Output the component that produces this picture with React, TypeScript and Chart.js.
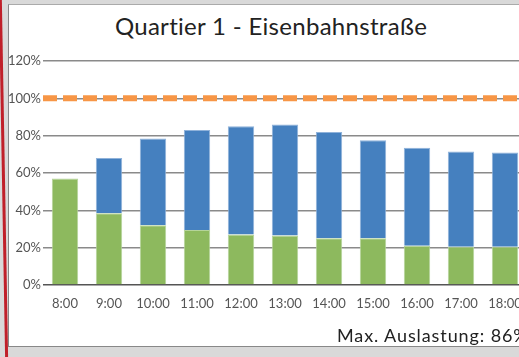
import React, { useEffect, useRef } from "react";
import { Chart, registerables } from "chart.js";

Chart.register(...registerables);

const title = "Quartier 1 - Eisenbahnstraße";
const footer = "Max. Auslastung: 86%";
const hours = ["8:00", "9:00", "10:00", "11:00", "12:00", "13:00", "14:00", "15:00", "16:00", "17:00", "18:00"];
const greenValues = [57, 38.5, 32, 29.5, 27, 26.5, 25, 25, 21, 20.5, 20.5];
const blueValues = [0, 29.5, 46.5, 53.5, 58, 59.5, 57, 52.5, 52.5, 51, 50.5];
const capacity = 100;
const yTicks = [0, 20, 40, 60, 80, 100, 120];

const FONT = "Lato, 'DejaVu Sans', sans-serif";

const capacityLine = {
  id: "capacityLine",
  afterDatasetsDraw(chart: any) {
    const { ctx, chartArea, scales } = chart;
    const y = scales.y.getPixelForValue(capacity);
    ctx.save();
    ctx.strokeStyle = "#F79646";
    ctx.lineWidth = 6;
    ctx.setLineDash([14, 6]);
    ctx.beginPath();
    ctx.moveTo(chartArea.left, y);
    ctx.lineTo(chartArea.right, y);
    ctx.stroke();
    ctx.restore();
  },
};

export default function App() {
  const ref = useRef<HTMLCanvasElement | null>(null);

  useEffect(() => {
    if (!ref.current) return;
    const chart = new Chart(ref.current, {
      type: "bar",
      data: {
        labels: hours,
        datasets: [
          {
            data: greenValues,
            backgroundColor: "#8DB95E",
            borderColor: "#B5D49A",
            borderWidth: 1,
            barPercentage: 0.6,
            categoryPercentage: 1,
            stack: "s",
          },
          {
            data: blueValues,
            backgroundColor: "#4580BF",
            borderColor: "#8FB2DA",
            borderWidth: 1,
            barPercentage: 0.6,
            categoryPercentage: 1,
            stack: "s",
          },
        ],
      },
      options: {
        animation: false,
        responsive: false,
        maintainAspectRatio: false,
        layout: { padding: { top: 61, right: 13, bottom: 0, left: 0 } },
        plugins: {
          legend: { display: false },
          tooltip: { enabled: false },
          title: { display: false },
        },
        scales: {
          x: {
            stacked: true,
            grid: { display: false },
            border: { display: false },
            ticks: {
              color: "#555",
              font: { family: FONT, size: 13 },
              padding: 3,
              maxRotation: 0,
              autoSkip: false,
            },
            afterFit: (s: any) => {
              s.height = 72;
            },
          },
          y: {
            stacked: true,
            min: 0,
            max: 120,
            afterBuildTicks: (s: any) => {
              s.ticks = yTicks.map((v) => ({ value: v }));
            },
            grid: {
              color: (ctx: any) => (ctx.tick && ctx.tick.value === 0 ? "#555" : "#8a8a8a"),
              lineWidth: 1.5,
              drawTicks: false,
            },
            border: { display: false },
            ticks: {
              color: "#555",
              font: { family: FONT, size: 13 },
              padding: 2,
              callback: (v: any) => v + "%",
            },
            afterFit: (s: any) => {
              s.width = 43;
            },
          },
        },
      },
      plugins: [capacityLine],
    });
    return () => chart.destroy();
  }, []);

  return (
    <div
      style={{
        position: "fixed",
        left: 0,
        top: 0,
        width: 519,
        height: 357,
        overflow: "hidden",
        background: "#d9d9d9",
      }}
    >
      <div
        style={{
          position: "absolute",
          left: 2,
          top: -10,
          width: 3,
          height: 380,
          background: "#c0202a",
          transform: "rotate(-1deg)",
        }}
      />
      <div
        style={{
          position: "absolute",
          left: 8,
          top: 4,
          width: 540,
          height: 341,
          background: "#fff",
          borderLeft: "1px solid #888",
          borderBottom: "1px solid #888",
          borderTop: "1px solid #aaa",
        }}
      />
      <div
        style={{
          position: "absolute",
          left: 8,
          top: 11,
          width: 526,
          textAlign: "center",
          fontFamily: FONT,
          fontSize: 24,
          letterSpacing: 0.3,
          color: "#222",
          whiteSpace: "nowrap",
        }}
      >
        {title}
      </div>
      <canvas
        ref={ref}
        width={540}
        height={357}
        style={{ position: "absolute", left: 0, top: 0, width: 540, height: 357 }}
      />
      <div
        style={{
          position: "absolute",
          left: 337,
          top: 324,
          fontFamily: FONT,
          fontSize: 18,
          letterSpacing: 0.9,
          color: "#222",
          whiteSpace: "nowrap",
        }}
      >
        {footer}
      </div>
    </div>
  );
}
